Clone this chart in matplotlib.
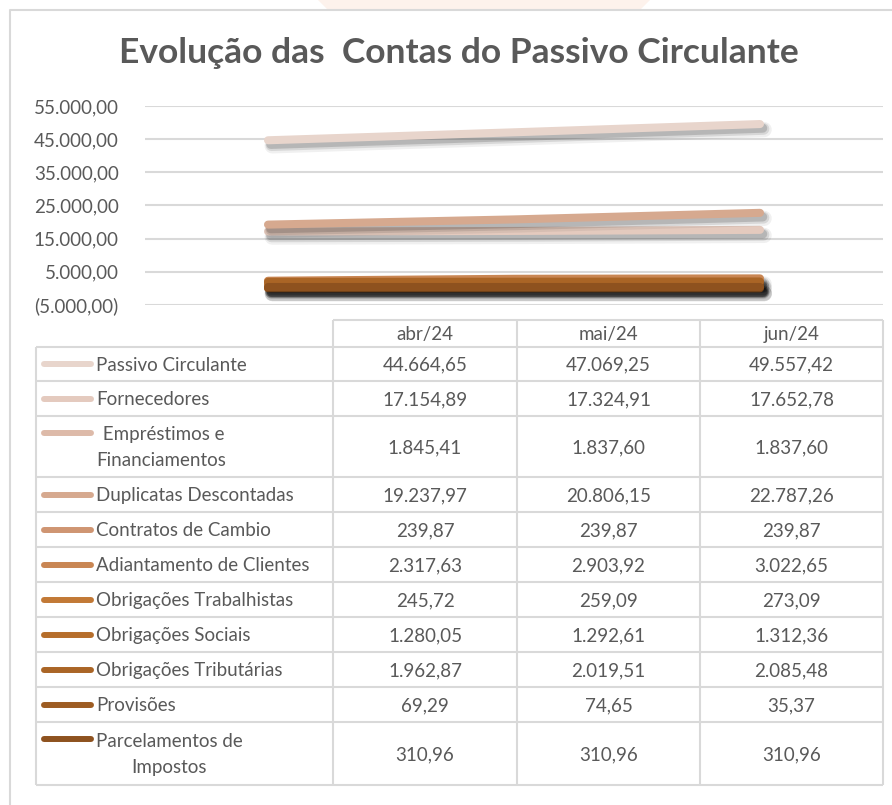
import matplotlib
matplotlib.use("Agg")
import matplotlib.pyplot as plt
import matplotlib.patheffects as pe
from matplotlib.patches import Polygon
from matplotlib.ticker import FuncFormatter

plt.rcParams['font.family'] = ['Lato', 'DejaVu Sans']

# data
months = ['abr/24', 'mai/24', 'jun/24']
names = ['Passivo Circulante', 'Fornecedores', ' Empréstimos e\nFinanciamentos',
         'Duplicatas Descontadas', 'Contratos de Cambio', 'Adiantamento de Clientes',
         'Obrigações Trabalhistas', 'Obrigações Sociais', 'Obrigações Tributárias',
         'Provisões', 'Parcelamentos de\nImpostos']
passivo = [44664.65, 47069.25, 49557.42]
fornecedores = [17154.89, 17324.91, 17652.78]
emprestimos = [1845.41, 1837.60, 1837.60]
duplicatas = [19237.97, 20806.15, 22787.26]
contratos = [239.87, 239.87, 239.87]
adiantamento = [2317.63, 2903.92, 3022.65]
trabalhistas = [245.72, 259.09, 273.09]
sociais = [1280.05, 1292.61, 1312.36]
tributarias = [1962.87, 2019.51, 2085.48]
provisoes = [69.29, 74.65, 35.37]
parcelamentos = [310.96, 310.96, 310.96]
series = [passivo, fornecedores, emprestimos, duplicatas, contratos, adiantamento,
          trabalhistas, sociais, tributarias, provisoes, parcelamentos]

colors = ['#E8D5CC', '#E4CABE', '#DDBAA9', '#D6A98F', '#CF9572', '#C98653',
          '#C27936', '#B66E2B', '#AA6526', '#9D5C22', '#8E521F']
txt = '#595959'
grid = '#D9D9D9'
fs = 13.5


def fmt(v):
    s = '{:,.2f}'.format(abs(v)).replace(',', 'X').replace('.', ',').replace('X', '.')
    return '(' + s + ')' if v < 0 else s


W, H = 892, 805
fig = plt.figure(figsize=(W / 100, H / 100), dpi=100)

# background layer in pixel coordinates
bg = fig.add_axes([0, 0, 1, 1])
bg.set_xlim(0, W)
bg.set_ylim(H, 0)
bg.axis('off')
bg.add_patch(Polygon([(318, 0), (650, 0), (640, 10), (328, 10)], closed=True,
                     facecolor='#FDF2EC', edgecolor='none'))
bg.plot([10, 10, W], [H, 10, 10], color=grid, lw=1.5)

fig.text(459 / W, 1 - 53 / H, 'Evolução das  Contas do Passivo Circulante',
         ha='center', va='center', fontsize=25.5, fontweight='bold', color=txt)

# line chart
ax = fig.add_axes([145 / W, 1 - 305 / H, (883 - 145) / W, (305 - 106) / H])
x = range(len(months))
shadow = [pe.SimpleLineShadow(offset=(3, -4), shadow_color='black', alpha=0.06, linewidth=11),
          pe.SimpleLineShadow(offset=(2.5, -3.5), shadow_color='black', alpha=0.1, linewidth=8.5),
          pe.SimpleLineShadow(offset=(2, -3), shadow_color='black', alpha=0.15, linewidth=6.5),
          pe.Normal()]
for vals, c in zip(series, colors):
    ax.plot(x, vals, color=c, lw=5.8, solid_capstyle='round', zorder=3, path_effects=shadow)
ax.set_xlim(-0.5, len(months) - 0.5)
ax.set_ylim(-5000, 55000)
ax.set_yticks(range(-5000, 55001, 10000))
ax.yaxis.set_major_formatter(FuncFormatter(lambda v, p: fmt(v)))
ax.set_xticks([])
ax.tick_params(axis='y', length=0, pad=19, labelsize=fs, labelcolor=txt)
ax.grid(axis='y', color=grid, lw=1.5, zorder=0)
for s in ax.spines.values():
    s.set_visible(False)

# data table
col_x = [36, 333, 517, 700, 883]
row_y = [347, 381, 416, 477, 512, 547, 582, 617, 652, 687, 722, 785]
head_top = 320
tl = dict(color=grid, lw=1.5, solid_capstyle='butt')
bg.plot([col_x[1], col_x[-1]], [head_top, head_top], **tl)
for y in row_y:
    bg.plot([col_x[0], col_x[-1]], [y, y], **tl)
bg.plot([col_x[0], col_x[0]], [row_y[0], row_y[-1]], **tl)
for cx in col_x[1:]:
    bg.plot([cx, cx], [head_top, row_y[-1]], **tl)

for j, m in enumerate(months):
    bg.text((col_x[j + 1] + col_x[j + 2]) / 2, (head_top + row_y[0]) / 2 + 1, m,
            ha='center', va='center', fontsize=fs, color=txt)

for i, (name, vals, c) in enumerate(zip(names, series, colors)):
    top, bot = row_y[i], row_y[i + 1]
    mid = (top + bot) / 2
    multi = '\n' in name
    ky = top + 17 if multi else mid
    bg.plot([44, 91], [ky, ky], color=c, lw=4.3, solid_capstyle='round')
    bg.text(96, mid + 1, name, ha='left', va='center', fontsize=fs, color=txt,
            multialignment='center', linespacing=1.65)
    for j, v in enumerate(vals):
        bg.text((col_x[j + 1] + col_x[j + 2]) / 2, mid + 1, fmt(v),
                ha='center', va='center', fontsize=fs, color=txt)

fig.savefig('out.png', dpi=100, facecolor='white')
